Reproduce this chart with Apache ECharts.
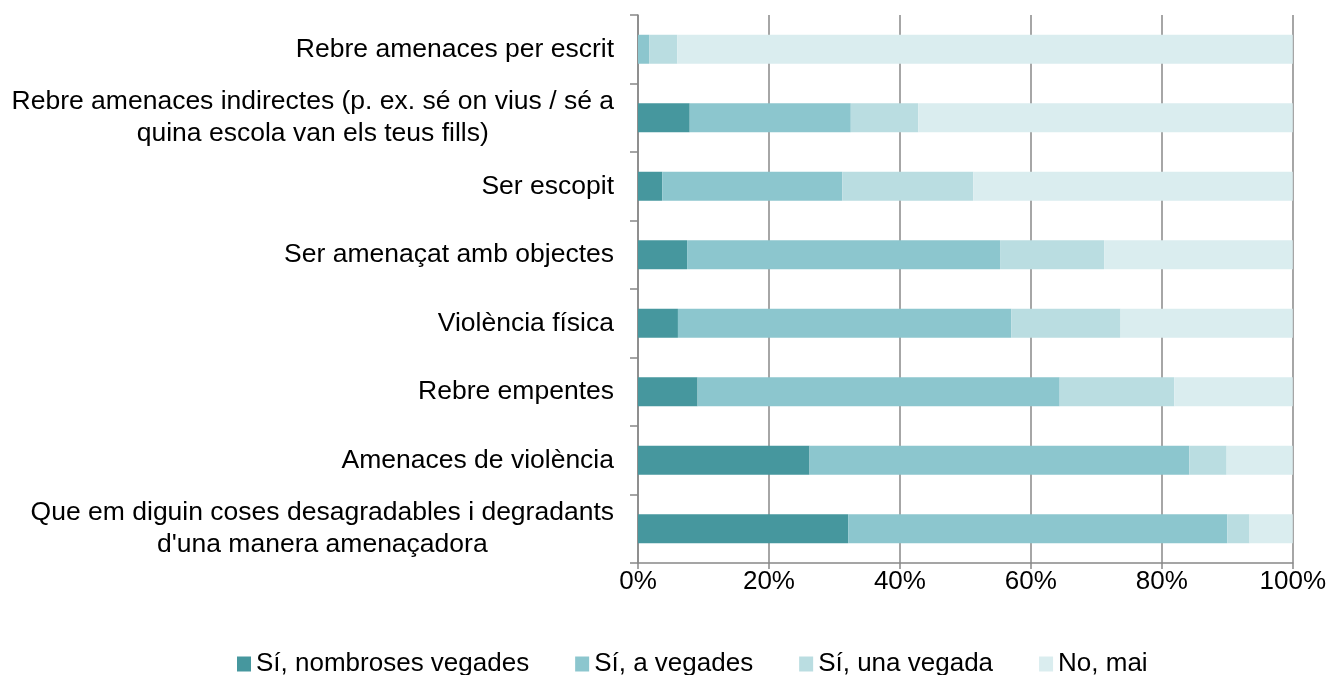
<!DOCTYPE html>
<html>
<head>
<meta charset="utf-8">
<title>Chart</title>
<script src="https://cdn.jsdelivr.net/npm/echarts@6/dist/echarts.min.js"></script>
<style>
  html, body { margin: 0; padding: 0; background: #fff; }
  #chart { width: 1329px; height: 675px; }
</style>
</head>
<body>
<div id="chart"></div>
<script>
// categories, top to bottom
var categories = [
  'Rebre amenaces per escrit',
  'Rebre amenaces indirectes (p. ex. sé on vius / sé a\nquina escola van els teus fills)',
  'Ser escopit',
  'Ser amenaçat amb objectes',
  'Violència física',
  'Rebre empentes',
  'Amenaces de violència',
  "Que em diguin coses desagradables i degradants\nd'una manera amenaçadora"
];
var seriesNames = ['Sí, nombroses vegades', 'Sí, a vegades', 'Sí, una vegada', 'No, mai'];
var nombroses = [0, 7.9, 3.7, 7.5, 6.1, 9.1, 26.2, 32.1];
var aVegades  = [1.7, 24.6, 27.5, 47.8, 50.9, 55.3, 58.0, 57.9];
var unaVegada = [4.3, 10.3, 20.0, 15.9, 16.7, 17.5, 5.7, 3.4];
var noMai     = [94.0, 57.2, 48.8, 28.8, 26.3, 18.1, 10.1, 6.6];
var colors = ['#46979e', '#8cc6ce', '#badde1', '#daedef'];

var font = "'Liberation Sans', Arial, sans-serif";
var gridColor = '#888888';

var myChart = echarts.init(document.getElementById('chart'));

var values = [nombroses, aVegades, unaVegada, noMai];
var series = [];
for (var i = 0; i < values.length; i++) {
  series.push({
    name: seriesNames[i],
    type: 'bar',
    stack: 'total',
    barWidth: 29,
    itemStyle: { color: colors[i] },
    data: values[i]
  });
}

var option = {
  animation: false,
  textStyle: { fontFamily: font },
  grid: { left: 638, right: 36, top: 15, bottom: 112 },
  legend: {
    left: 232,
    top: 646,
    itemWidth: 14,
    itemHeight: 15,
    itemGap: 46,
    icon: 'rect',
    textStyle: { fontSize: 26, color: '#000', fontFamily: font },
    data: seriesNames
  },
  xAxis: {
    type: 'value',
    min: 0,
    max: 100,
    interval: 20,
    axisLine: { show: true, lineStyle: { color: gridColor, width: 1.5 } },
    axisTick: { show: true, length: 6, lineStyle: { color: gridColor, width: 1.5 } },
    splitLine: { show: true, lineStyle: { color: gridColor, width: 1.5 } },
    axisLabel: { formatter: '{value}%', fontSize: 26, color: '#000', margin: 6, fontFamily: font }
  },
  yAxis: {
    type: 'category',
    inverse: true,
    data: categories,
    axisLine: { show: true, lineStyle: { color: gridColor, width: 1.5 } },
    axisTick: { show: true, length: 8, lineStyle: { color: gridColor, width: 1.5 } },
    axisLabel: {
      margin: 24,
      color: '#000',
      fontFamily: font,
      fontSize: 26.5,
      lineHeight: 32,
      formatter: function (v) {
        return v.split('\n').map(function (l) { return '{c|' + l + '}'; }).join('\n');
      },
      rich: {
        c: { align: 'center', fontSize: 26.5, lineHeight: 32, color: '#000', fontFamily: font }
      }
    }
  },
  series: series
};

myChart.setOption(option);
</script>
</body>
</html>
